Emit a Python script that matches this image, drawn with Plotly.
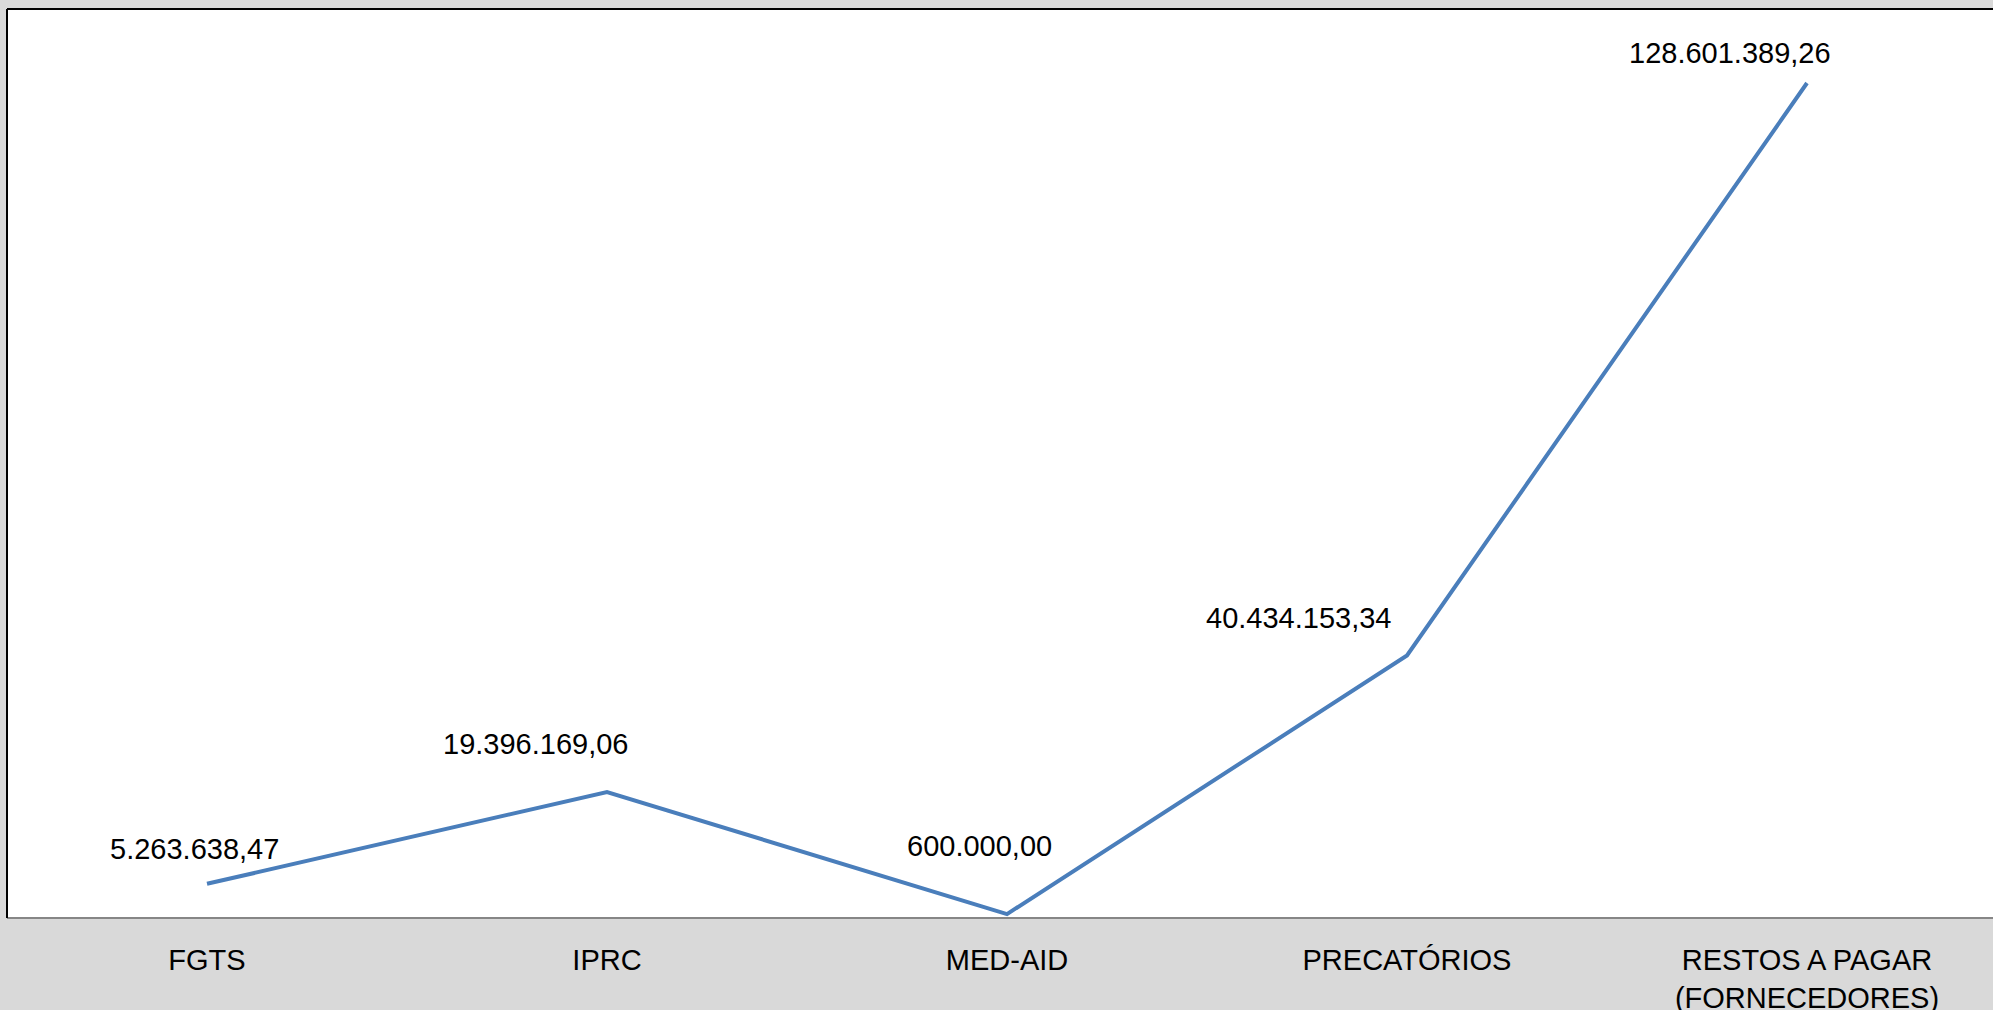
import plotly.graph_objects as go

categories = ["FGTS", "IPRC", "MED-AID", "PRECATÓRIOS", "RESTOS A PAGAR<br>(FORNECEDORES)"]
values = [5263638.47, 19396169.06, 600000.00, 40434153.34, 128601389.26]
value_labels = ["5.263.638,47", "19.396.169,06", "600.000,00", "40.434.153,34", "128.601.389,26"]

# label offsets (pixels) relative to each point
label_dx = [-13, -72, -28, -109, -77]
label_dy = [35, 48, 68, 37, 30]

FONT = "Liberation Sans, Arial, sans-serif"

fig = go.Figure()
fig.add_trace(go.Scatter(
    x=list(range(len(categories))), y=values, mode="lines",
    line=dict(color="#4a7ebb", width=4), hoverinfo="skip", showlegend=False,
))

for i, (v, t) in enumerate(zip(values, value_labels)):
    fig.add_annotation(x=i, y=v, text=t, showarrow=False,
                       xshift=label_dx[i], yshift=label_dy[i],
                       font=dict(family=FONT, size=29, color="#000000"))

fig.update_layout(
    width=1993, height=1010,
    margin=dict(l=7, r=0, t=9, b=92, autoexpand=False),
    paper_bgcolor="#d9d9d9", plot_bgcolor="#ffffff",
    font=dict(family=FONT, size=29, color="#000000"),
    xaxis=dict(
        tickmode="array", tickvals=list(range(len(categories))), ticktext=categories,
        range=[-0.5, -0.5 + 1986 / 400], showgrid=False, zeroline=False,
        showline=False, ticks="outside", ticklen=16, tickcolor="rgba(0,0,0,0)",
        tickfont=dict(family=FONT, size=29, color="#000000"), automargin=False,
    ),
    yaxis=dict(range=[0, 140000000], showgrid=False, zeroline=False,
               showticklabels=False, showline=False, automargin=False),
    shapes=[
        dict(type="line", xref="paper", yref="paper", x0=0, x1=1, y0=0, y1=0,
             line=dict(color="#868686", width=2)),
        dict(type="line", xref="paper", yref="paper", x0=0, x1=0, y0=0, y1=1,
             line=dict(color="#000000", width=2)),
        dict(type="line", xref="paper", yref="paper", x0=0, x1=1, y0=1, y1=1,
             line=dict(color="#000000", width=2)),
    ],
)

fig.write_html(
    "out.html",
    config={"displayModeBar": False},
    post_script="document.body.style.margin='0';document.body.style.overflow='hidden';",
)
